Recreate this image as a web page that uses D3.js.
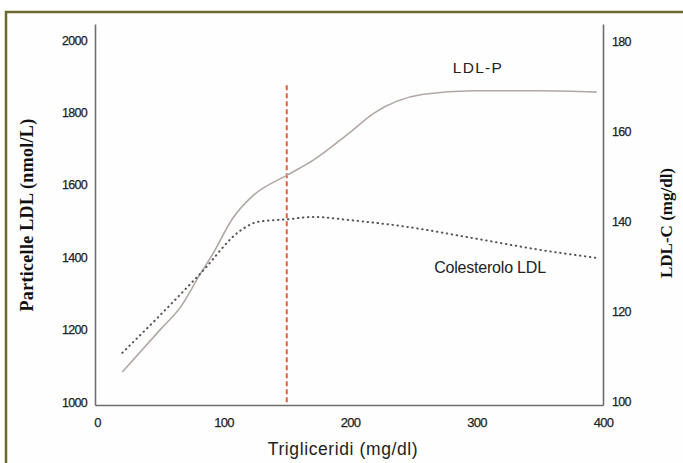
<!DOCTYPE html>
<html>
<head>
  <title>LDL-P vs LDL-C</title>
  <style>
    body { margin: 0; background: #fff; }
  </style>
</head>
<body>
  <svg id="svg"></svg>

  <script src="https://d3js.org/d3.v7.min.js"></script>
  <script>
    // tick labels
    const xTicks = [0, 100, 200, 300, 400];
    const leftTicks = [1000, 1200, 1400, 1600, 1800, 2000];
    const rightTicks = [100, 120, 140, 160, 180];

    // LDL-P (left axis, nmol/L)
    const ldlpTrig = [20, 50, 66, 82, 90, 108, 124, 151, 171, 200, 219, 258, 297, 350, 395];
    const ldlpVals = [1083, 1200, 1262, 1356, 1400, 1511, 1572, 1628, 1668, 1745, 1798, 1850, 1860, 1860, 1856];

    // LDL-C (right axis, mg/dl)
    const ldlcTrig = [20, 50, 82, 114, 127, 151, 171, 200, 245, 297, 350, 395];
    const ldlcVals = [110.7, 119.1, 128.4, 138, 139.8, 140.4, 140.9, 140.2, 138.7, 136.2, 133.6, 131.8];

    const cutoff = 150;

    const width = 683, height = 463;
    const sans = "'Liberation Sans', Arial, sans-serif";
    const serif = "'Liberation Serif', 'Times New Roman', serif";

    const svg = d3.select("#svg").attr("width", width).attr("height", height);

    // olive frame
    svg.append("rect")
      .attr("x", 6).attr("y", 12)
      .attr("width", width + 10).attr("height", height + 10)
      .attr("fill", "#fefefe")
      .attr("stroke", "#6b6a2e")
      .attr("stroke-width", 2.5);

    const x = d3.scaleLinear().domain([0, 400]).range([97, 603]);
    x.domain([x.invert(95), x.invert(603)]).range([95, 603]);

    const yL = d3.scaleLinear().domain([1000, 2000]).range([402, 40]);
    yL.domain([yL.invert(405), yL.invert(24)]).range([405, 24]);

    const yR = d3.scaleLinear().domain([100, 180]).range([401, 41]);
    yR.domain([yR.invert(405), yR.invert(24)]).range([405, 24]);

    const axisColor = "#6e6e6e";
    const fmt = d3.format("d");

    const gx = svg.append("g")
      .attr("transform", `translate(0, ${yL.range()[0]})`)
      .call(d3.axisBottom(x).tickValues(xTicks).tickFormat(fmt).tickSize(0).tickPadding(13));

    const gl = svg.append("g")
      .attr("transform", `translate(${x.range()[0]}, 0)`)
      .call(d3.axisLeft(yL).tickValues(leftTicks).tickFormat(fmt).tickSize(0).tickPadding(8));

    const gr = svg.append("g")
      .attr("transform", `translate(${x.range()[1]}, 0)`)
      .call(d3.axisRight(yR).tickValues(rightTicks).tickFormat(fmt).tickSize(0).tickPadding(9));

    [gx, gl, gr].forEach(g => {
      g.select(".domain").attr("stroke", axisColor).attr("stroke-width", 1.6);
      g.selectAll("text")
        .style("font-family", sans)
        .style("font-size", "12.5px")
        .style("letter-spacing", "-0.7px")
        .attr("fill", "#222")
        .attr("stroke", "#222")
        .attr("stroke-width", 0.25);
    });
    gx.selectAll("text").style("font-size", "13px");

    // cutoff line
    svg.append("line")
      .attr("x1", x(cutoff)).attr("x2", x(cutoff))
      .attr("y1", yL(1875)).attr("y2", yL.range()[0])
      .attr("stroke", "#e2603c")
      .attr("stroke-width", 2)
      .attr("stroke-dasharray", "5,3");

    const ldlp = ldlpTrig.map((t, i) => ({ t, v: ldlpVals[i] }));
    const ldlc = ldlcTrig.map((t, i) => ({ t, v: ldlcVals[i] }));

    svg.append("path")
      .datum(ldlp)
      .attr("fill", "none")
      .attr("stroke", "#b3a7a5")
      .attr("stroke-width", 1.6)
      .attr("d", d3.line().x(d => x(d.t)).y(d => yL(d.v)).curve(d3.curveMonotoneX));

    svg.append("path")
      .datum(ldlc)
      .attr("fill", "none")
      .attr("stroke", "#555")
      .attr("stroke-width", 2)
      .attr("stroke-linecap", "round")
      .attr("stroke-dasharray", "0.5,4.5")
      .attr("d", d3.line().x(d => x(d.t)).y(d => yR(d.v)).curve(d3.curveMonotoneX));

    // series labels
    svg.append("text")
      .attr("x", 478).attr("y", 73)
      .attr("text-anchor", "middle")
      .style("font-family", sans)
      .style("font-size", "15.5px")
      .style("letter-spacing", "1.3px")
      .attr("fill", "#222")
      .text("LDL-P");

    svg.append("text")
      .attr("x", 490).attr("y", 273)
      .attr("text-anchor", "middle")
      .style("font-family", sans)
      .style("font-size", "16px")
      .style("letter-spacing", "-0.2px")
      .attr("fill", "#222")
      .text("Colesterolo LDL");

    // axis titles
    svg.append("text")
      .attr("transform", "translate(33, 215) rotate(-90)")
      .attr("text-anchor", "middle")
      .style("font-family", serif)
      .style("font-weight", "bold")
      .style("font-size", "18px")
      .style("letter-spacing", "0.3px")
      .attr("fill", "#111")
      .text("Particelle LDL  (nmol/L)");

    svg.append("text")
      .attr("transform", "translate(672, 223) rotate(-90)")
      .attr("text-anchor", "middle")
      .style("font-family", serif)
      .style("font-weight", "bold")
      .style("font-size", "17px")
      .attr("fill", "#111")
      .text("LDL-C (mg/dl)");

    svg.append("text")
      .attr("x", 343).attr("y", 455)
      .attr("text-anchor", "middle")
      .style("font-family", sans)
      .style("font-size", "17.5px")
      .style("letter-spacing", "0.6px")
      .attr("fill", "#222")
      .text("Trigliceridi (mg/dl)");
  </script>
</body>
</html>
